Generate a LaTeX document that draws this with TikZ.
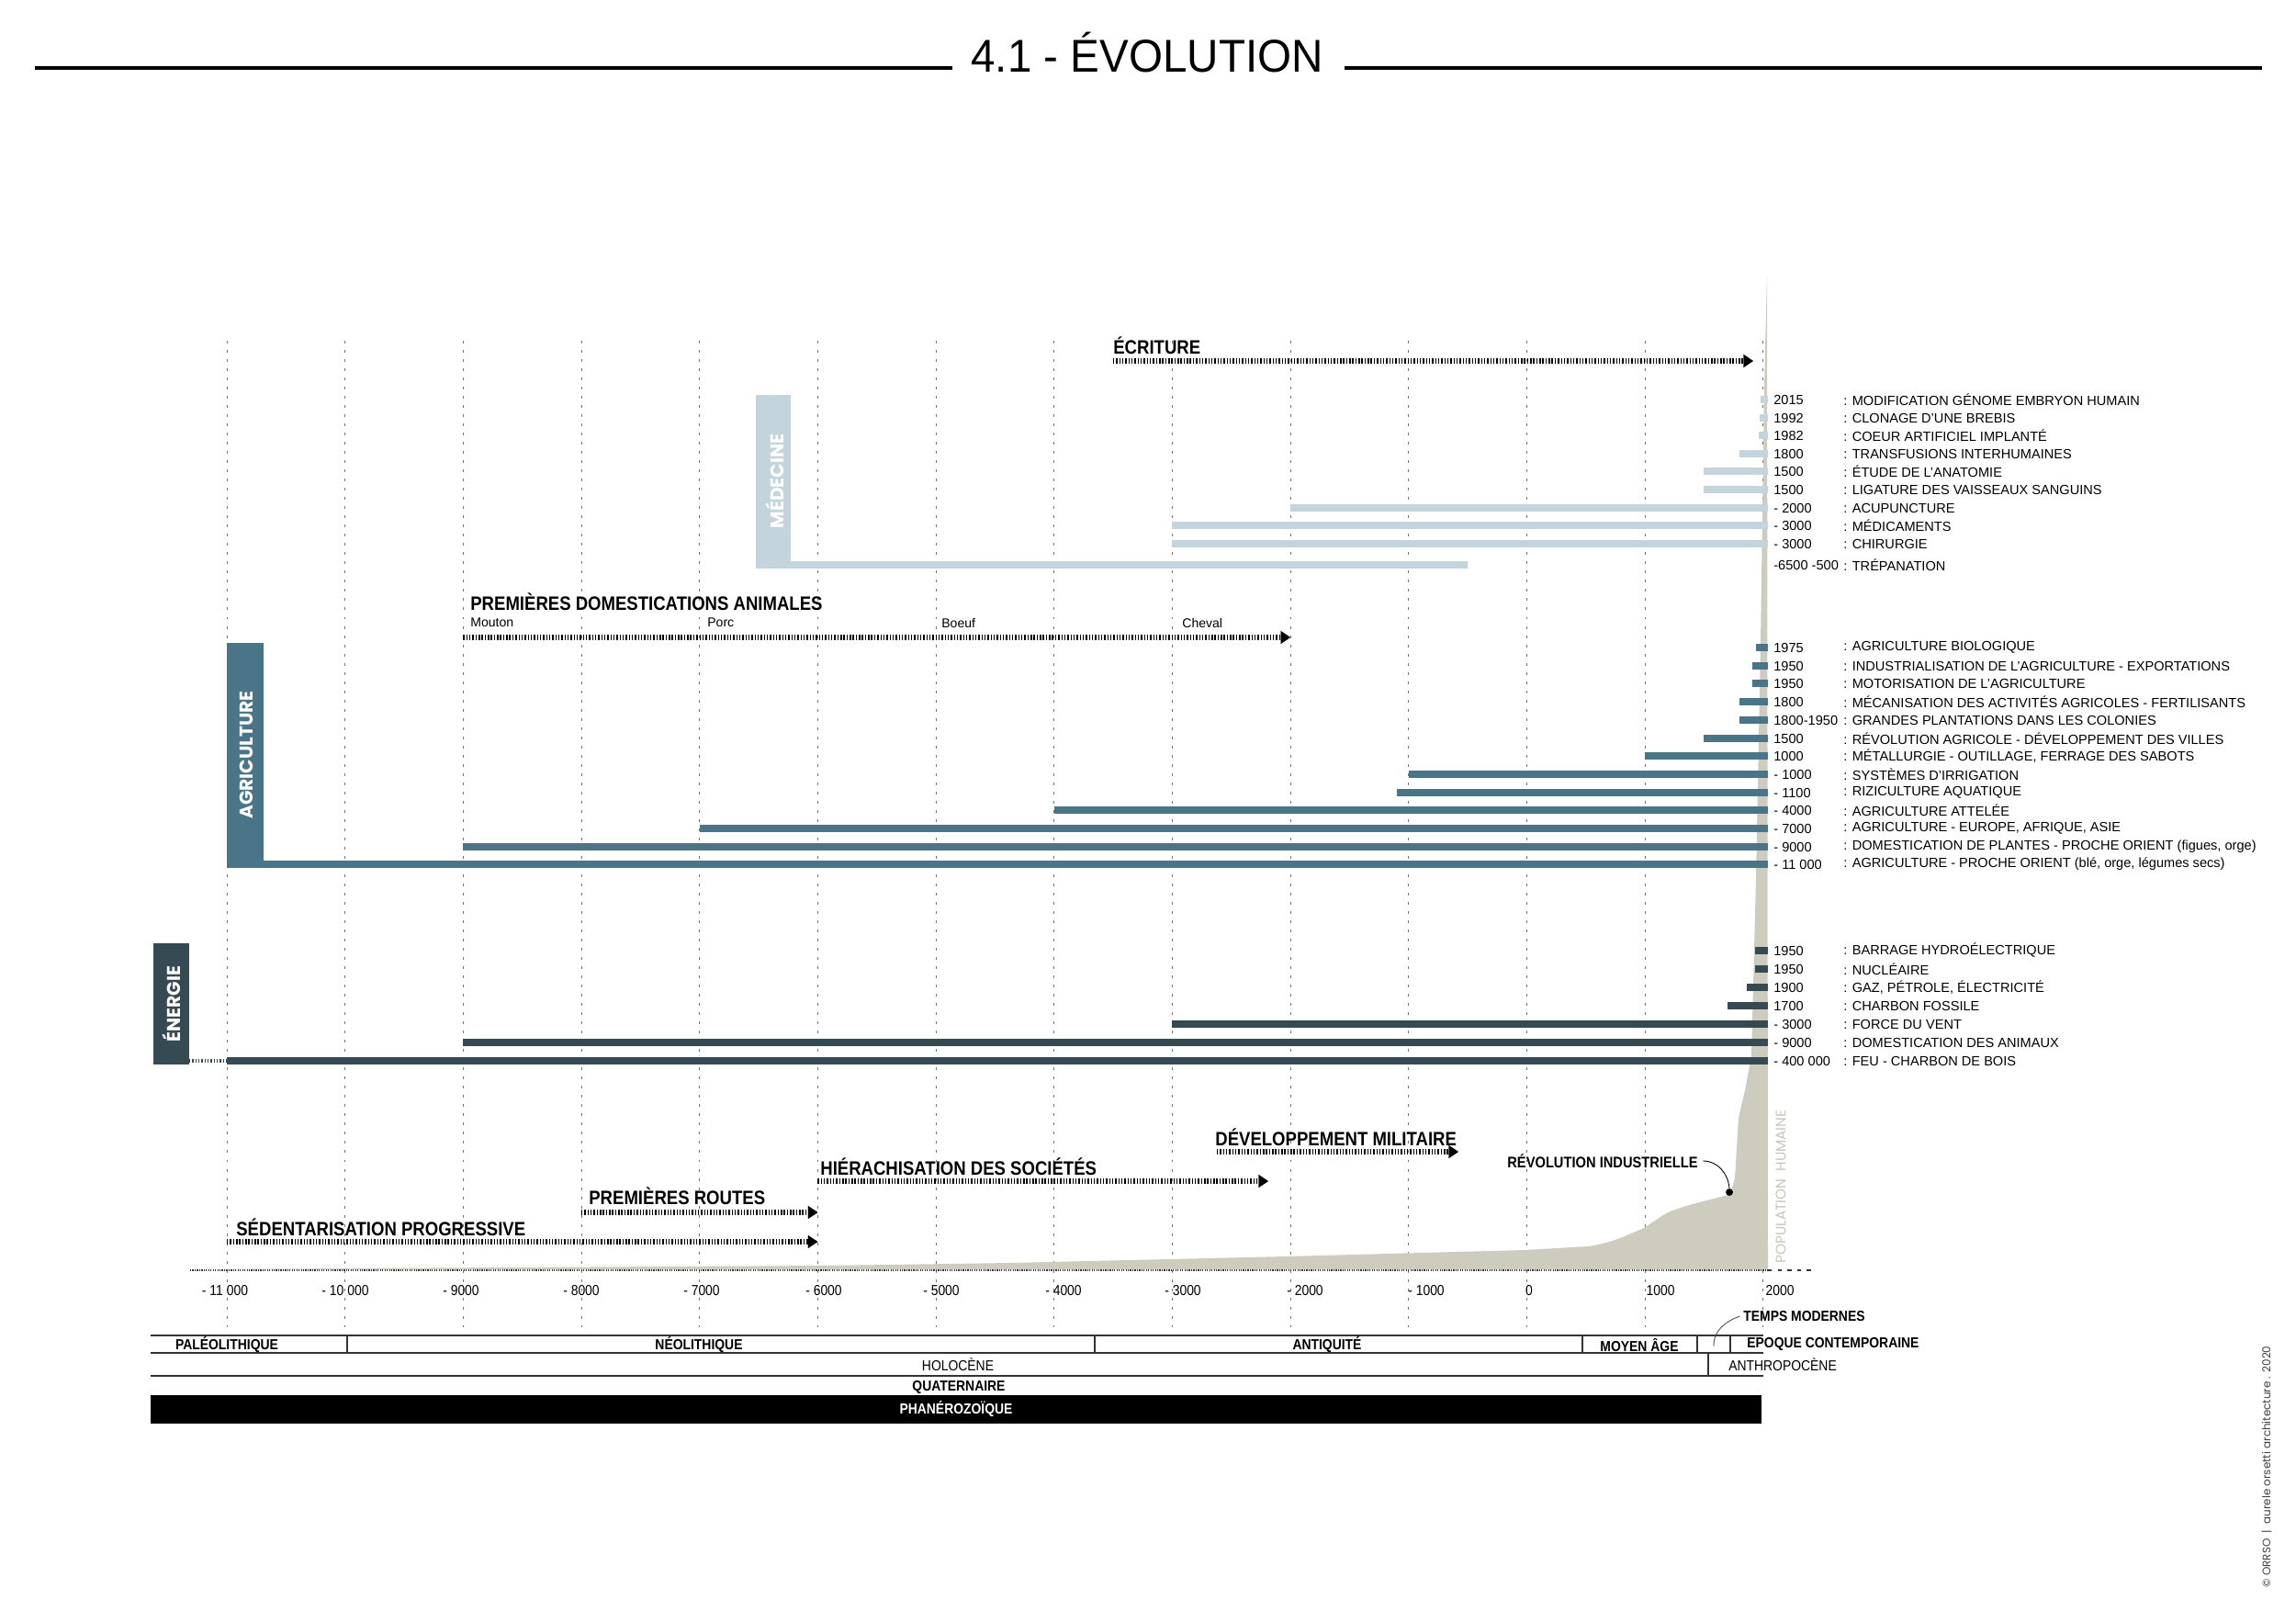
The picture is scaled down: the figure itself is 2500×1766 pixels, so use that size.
\documentclass[tikz,border=0pt]{standalone}
\usepackage{fontspec}
\setmainfont{Liberation Sans}
\newfontfamily\condfont[FakeStretch=0.88]{Liberation Sans}
\newfontfamily\titlefont[FakeStretch=0.95]{Liberation Sans}
\newfontfamily\catfont{Poppins}
\usetikzlibrary{arrows.meta}

\definecolor{medc}{RGB}{195,212,220}
\definecolor{agric}{RGB}{74,117,137}
\definecolor{enerc}{RGB}{53,74,82}
\definecolor{popc}{RGB}{206,204,191}
\definecolor{poptxt}{RGB}{200,198,186}

% year -> x position (px)
\newcommand{\yr}[1]{1662.36+0.12866*#1}

\begin{document}
\begin{tikzpicture}[x=0.2mm, y=-0.2mm,
  grid/.style={draw=black!55, line width=0.55pt, dash pattern=on 1.7pt off 4pt},
  medbar/.style={draw=medc, line width=4pt},
  agribar/.style={draw=agric, line width=4pt},
  enerbar/.style={draw=enerc, line width=4pt},
  hatch/.style={line width=3.2pt, dash pattern=on 0.8pt off 1.1pt, -{Triangle[length=6pt, width=8pt, line width=0.1pt]}},
  lbl/.style={inner sep=0pt, anchor=west, font=\fontsize{8.3}{9}\selectfont},
  small/.style={inner sep=0pt, anchor=west, font=\fontsize{8}{9}\selectfont},
  head/.style={inner sep=0pt, anchor=west, font=\condfont\bfseries\fontsize{12}{13}\selectfont},
  per/.style={inner sep=0pt, font=\condfont\bfseries\fontsize{9}{10}\selectfont},
  era/.style={inner sep=0pt, font=\condfont\fontsize{9}{10}\selectfont},
  axlab/.style={inner sep=0pt, anchor=base, font=\condfont\fontsize{9}{10}\selectfont},
  cat/.style={inner sep=0pt, rotate=90, text=white, font=\catfont\bfseries\fontsize{11.5}{12}\selectfont},
  rowline/.style={draw=black!80, line width=0.9pt}]
  \useasboundingbox (0,0) rectangle (2500,1766);
  \fill[white] (0,0) rectangle (2500,1766);

  % title
  \node[inner sep=0pt, anchor=base, font=\titlefont\fontsize{28.5}{30}\selectfont] (title) at (1249,79) {4.1 - ÉVOLUTION};
  \draw[line width=2.6pt] (38,74) -- (1037,74);
  \draw[line width=2.6pt] (1464,74) -- (2463,74);

  % grid
  \foreach \y in {-11000,-10000,...,2000}
    \draw[grid] (\yr{\y},371) -- (\yr{\y},1445);

  % population
  \fill[popc] (207,1382) -- (900,1378) -- (1100,1375) -- (1400,1368) -- (1660,1361) -- (1730,1357)
    .. controls (1760,1352) and (1770,1345) .. (1788,1338)
    .. controls (1805,1328) and (1812,1320) .. (1827,1316)
    .. controls (1850,1308) and (1870,1305) .. (1884,1300)
    -- (1889,1283) -- (1893,1217) -- (1900,1187) -- (1907,1150) -- (1912,957) -- (1917,700)
    -- (1921,420) -- (1924,300) -- (1925,1382) -- cycle;
  \draw[black!80, line width=0.7pt, dash pattern=on 0.7pt off 0.7pt] (207,1383) -- (1925,1383);
  \draw[black!80, line width=0.7pt, dash pattern=on 2.5pt off 3.5pt] (1925,1383) -- (1977,1383);
  \node[inner sep=0pt, rotate=90, text=poptxt, font=\catfont\fontsize{8.7}{9}\selectfont] (pop) at (1939,1292) {POPULATION\ \ HUMAINE};

  % medecine
  \fill[medc] (823,430) rectangle (861,619);
  \node[cat] (medlbl) at (844,524) {MÉDECINE};
  \draw[medbar] (1917,435) -- (1925,435);
  \draw[medbar] (1916,455) -- (1925,455);
  \draw[medbar] (1915,474) -- (1925,474);
  \draw[medbar] (\yr{1800},494) -- (1925,494);
  \draw[medbar] (\yr{1500},513) -- (1925,513);
  \draw[medbar] (\yr{1500},533) -- (1925,533);
  \draw[medbar] (\yr{-2000},553) -- (1925,553);
  \draw[medbar] (\yr{-3000},572) -- (1925,572);
  \draw[medbar] (\yr{-3000},592) -- (1925,592);
  \draw[medbar] (861,615) -- (\yr{-500},615);
  \node[lbl] (m1y) at (1931,435) {2015};
  \node[lbl] (m1t) at (2007,435) {: MODIFICATION GÉNOME EMBRYON HUMAIN};
  \node[lbl] (m2y) at (1931,455) {1992};
  \node[lbl] (m2t) at (2007,455) {: CLONAGE D’UNE BREBIS};
  \node[lbl] (m3y) at (1931,474) {1982};
  \node[lbl] (m3t) at (2007,474) {: COEUR ARTIFICIEL IMPLANTÉ};
  \node[lbl] (m4y) at (1931,494) {1800};
  \node[lbl] (m4t) at (2007,494) {: TRANSFUSIONS INTERHUMAINES};
  \node[lbl] (m5y) at (1931,513) {1500};
  \node[lbl] (m5t) at (2007,513) {: ÉTUDE DE L’ANATOMIE};
  \node[lbl] (m6y) at (1931,533) {1500};
  \node[lbl] (m6t) at (2007,533) {: LIGATURE DES VAISSEAUX SANGUINS};
  \node[lbl] (m7y) at (1931,553) {- 2000};
  \node[lbl] (m7t) at (2007,553) {: ACUPUNCTURE};
  \node[lbl] (m8y) at (1931,572) {- 3000};
  \node[lbl] (m8t) at (2007,572) {: MÉDICAMENTS};
  \node[lbl] (m9y) at (1931,592) {- 3000};
  \node[lbl] (m9t) at (2007,592) {: CHIRURGIE};
  \node[lbl] (m10y) at (1931,615) {-6500 -500};
  \node[lbl] (m10t) at (2007,615) {: TRÉPANATION};

  % ecriture
  \node[head] (ecr) at (1212,376) {ÉCRITURE};
  \draw[hatch] (1212,393) -- (1909,393);

  % domestications
  \node[head] (dom) at (512,655) {PREMIÈRES DOMESTICATIONS ANIMALES};
  \node[small] (mouton) at (512,678) {Mouton};
  \node[small] (porc) at (770,678) {Porc};
  \node[small] (boeuf) at (1025,678) {Boeuf};
  \node[small] (cheval) at (1287,678) {Cheval};
  \draw[hatch] (\yr{-9000},694) -- (\yr{-2000},694);

  % agriculture
  \fill[agric] (247,700) rectangle (287,945);
  \node[cat] (agrilbl) at (268,822) {AGRICULTURE};
  \draw[agribar] (1912,705) -- (1925,705);
  \draw[agribar] (1908,725) -- (1925,725);
  \draw[agribar] (1908,744) -- (1925,744);
  \draw[agribar] (\yr{1800},764) -- (1925,764);
  \draw[agribar] (\yr{1800},784) -- (1925,784);
  \draw[agribar] (\yr{1500},804) -- (1925,804);
  \draw[agribar] (\yr{1000},823) -- (1925,823);
  \draw[agribar] (\yr{-1000},843) -- (1925,843);
  \draw[agribar] (\yr{-1100},863) -- (1925,863);
  \draw[agribar] (\yr{-4000},882) -- (1925,882);
  \draw[agribar] (\yr{-7000},902) -- (1925,902);
  \draw[agribar] (\yr{-9000},922) -- (1925,922);
  \draw[agribar] (287,941) -- (1925,941);
  \node[lbl] (a1y) at (1931,705) {1975};
  \node[lbl] (a1t) at (2007,705) {: AGRICULTURE BIOLOGIQUE};
  \node[lbl] (a2y) at (1931,725) {1950};
  \node[lbl] (a2t) at (2007,725) {: INDUSTRIALISATION DE L’AGRICULTURE - EXPORTATIONS};
  \node[lbl] (a3y) at (1931,744) {1950};
  \node[lbl] (a3t) at (2007,744) {: MOTORISATION DE L’AGRICULTURE};
  \node[lbl] (a4y) at (1931,764) {1800};
  \node[lbl] (a4t) at (2007,764) {: MÉCANISATION DES ACTIVITÉS AGRICOLES - FERTILISANTS};
  \node[lbl] (a5y) at (1931,784) {1800-1950};
  \node[lbl] (a5t) at (2007,784) {: GRANDES PLANTATIONS DANS LES COLONIES};
  \node[lbl] (a6y) at (1931,804) {1500};
  \node[lbl] (a6t) at (2007,804) {: RÉVOLUTION AGRICOLE - DÉVELOPPEMENT DES VILLES};
  \node[lbl] (a7y) at (1931,823) {1000};
  \node[lbl] (a7t) at (2007,823) {: MÉTALLURGIE - OUTILLAGE, FERRAGE DES SABOTS};
  \node[lbl] (a8y) at (1931,843) {- 1000};
  \node[lbl] (a8t) at (2007,843) {: SYSTÈMES D’IRRIGATION};
  \node[lbl] (a9y) at (1931,863) {- 1100};
  \node[lbl] (a9t) at (2007,863) {: RIZICULTURE AQUATIQUE};
  \node[lbl] (a10y) at (1931,882) {- 4000};
  \node[lbl] (a10t) at (2007,882) {: AGRICULTURE ATTELÉE};
  \node[lbl] (a11y) at (1931,902) {- 7000};
  \node[lbl] (a11t) at (2007,902) {: AGRICULTURE - EUROPE, AFRIQUE, ASIE};
  \node[lbl] (a12y) at (1931,922) {- 9000};
  \node[lbl] (a12t) at (2007,922) {: DOMESTICATION DE PLANTES - PROCHE ORIENT (figues, orge)};
  \node[lbl] (a13y) at (1931,941) {- 11 000};
  \node[lbl] (a13t) at (2007,941) {: AGRICULTURE - PROCHE ORIENT (blé, orge, légumes secs)};

  % energie
  \fill[enerc] (167,1027) rectangle (206,1159);
  \node[cat] (enerlbl) at (187,1093) {ÉNERGIE};
  \draw[enerbar] (1911,1035) -- (1925,1035);
  \draw[enerbar] (1911,1055) -- (1925,1055);
  \draw[enerbar] (1902,1075) -- (1925,1075);
  \draw[enerbar] (\yr{1700},1095) -- (1925,1095);
  \draw[enerbar] (\yr{-3000},1115) -- (1925,1115);
  \draw[enerbar] (\yr{-9000},1135) -- (1925,1135);
  \draw[enerbar] (\yr{-11000},1155) -- (1925,1155);
  \draw[enerc, line width=2.8pt, dash pattern=on 0.8pt off 1.1pt] (206,1155) -- (\yr{-11000},1155);
  \node[lbl] (e1y) at (1931,1035) {1950};
  \node[lbl] (e1t) at (2007,1035) {: BARRAGE HYDROÉLECTRIQUE};
  \node[lbl] (e2y) at (1931,1055) {1950};
  \node[lbl] (e2t) at (2007,1055) {: NUCLÉAIRE};
  \node[lbl] (e3y) at (1931,1075) {1900};
  \node[lbl] (e3t) at (2007,1075) {: GAZ, PÉTROLE, ÉLECTRICITÉ};
  \node[lbl] (e4y) at (1931,1095) {1700};
  \node[lbl] (e4t) at (2007,1095) {: CHARBON FOSSILE};
  \node[lbl] (e5y) at (1931,1115) {- 3000};
  \node[lbl] (e5t) at (2007,1115) {: FORCE DU VENT};
  \node[lbl] (e6y) at (1931,1135) {- 9000};
  \node[lbl] (e6t) at (2007,1135) {: DOMESTICATION DES ANIMAUX};
  \node[lbl] (e7y) at (1931,1155) {- 400 000};
  \node[lbl] (e7t) at (2007,1155) {: FEU - CHARBON DE BOIS};

  % societe
  \node[head] (mil) at (1323,1238) {DÉVELOPPEMENT MILITAIRE};
  \draw[hatch] (1325,1254) -- (1588,1254);
  \node[head] (hier) at (893,1270) {HIÉRACHISATION DES SOCIÉTÉS};
  \draw[hatch] (\yr{-6000},1286) -- (1381,1286);
  \node[head] (routes) at (641,1302) {PREMIÈRES ROUTES};
  \draw[hatch] (\yr{-8000},1320) -- (\yr{-6000},1320);
  \node[head] (sed) at (257,1336) {SÉDENTARISATION PROGRESSIVE};
  \draw[hatch] (\yr{-11000},1352) -- (\yr{-6000},1352);
  \node[head, font=\condfont\bfseries\fontsize{9.5}{10}\selectfont] (rev) at (1641,1264) {RÉVOLUTION INDUSTRIELLE};
  \node[circle, fill=black, inner sep=0pt, minimum size=4.5pt] (revdot) at (1883,1298) {};
  \draw[line width=0.5pt] ([xshift=3pt]rev.east) to[out=0, in=95] (revdot.north);

  % axis
  \node[axlab] (t1) at (245,1410) {- 11 000};
  \node[axlab] (t2) at (376,1410) {- 10 000};
  \node[axlab] (t3) at (502,1410) {- 9000};
  \node[axlab] (t4) at (633,1410) {- 8000};
  \node[axlab] (t5) at (764,1410) {- 7000};
  \node[axlab] (t6) at (897,1410) {- 6000};
  \node[axlab] (t7) at (1025,1410) {- 5000};
  \node[axlab] (t8) at (1158,1410) {- 4000};
  \node[axlab] (t9) at (1288,1410) {- 3000};
  \node[axlab] (t10) at (1421,1410) {- 2000};
  \node[axlab] (t11) at (1553,1410) {- 1000};
  \node[axlab] (t12) at (1665,1410) {0};
  \node[axlab] (t13) at (1808,1410) {1000};
  \node[axlab] (t14) at (1938,1410) {2000};

  % periods
  \draw[rowline] (164,1454) -- (1920,1454);
  \draw[rowline, line width=1.3pt] (164,1473) -- (1920,1473);
  \draw[rowline] (164,1498) -- (1920,1498);
  \foreach \x in {378,1192,1723,1848,1884}
    \draw[rowline] (\x,1454) -- (\x,1473);
  \draw[rowline] (1860,1473) -- (1860,1498);
  \fill[black] (164,1519) rectangle (1918,1550);
  \node[per] (paleo) at (247,1464) {PALÉOLITHIQUE};
  \node[per] (neo) at (761,1464) {NÉOLITHIQUE};
  \node[per] (anti) at (1445,1464) {ANTIQUITÉ};
  \node[per] (moyen) at (1785,1464) {MOYEN ÂGE};
  \node[per, anchor=west] (contemp) at (1902,1464) {EPOQUE CONTEMPORAINE};
  \node[per, anchor=west] (tm) at (1898,1433) {TEMPS MODERNES};
  \coordinate (tmcell) at (1866,1466);
  \draw[black!70, line width=0.5pt] (tmcell) to[out=92, in=200] ([xshift=-2pt]tm.west);
  \node[era] (holo) at (1043,1486) {HOLOCÈNE};
  \node[era] (anthro) at (1941,1486) {ANTHROPOCÈNE};
  \node[per] (quat) at (1044,1511) {QUATERNAIRE};
  \node[per, text=white] (phan) at (1041,1534) {PHANÉROZOÏQUE};

  % copyright
  \node[inner sep=0pt, rotate=90, text=black!75, font=\catfont\fontsize{6.8}{7}\selectfont] (copy) at (2468,1597) {© ORRSO \ | \ aurele orsetti architecture . 2020};
\end{tikzpicture}
\end{document}
